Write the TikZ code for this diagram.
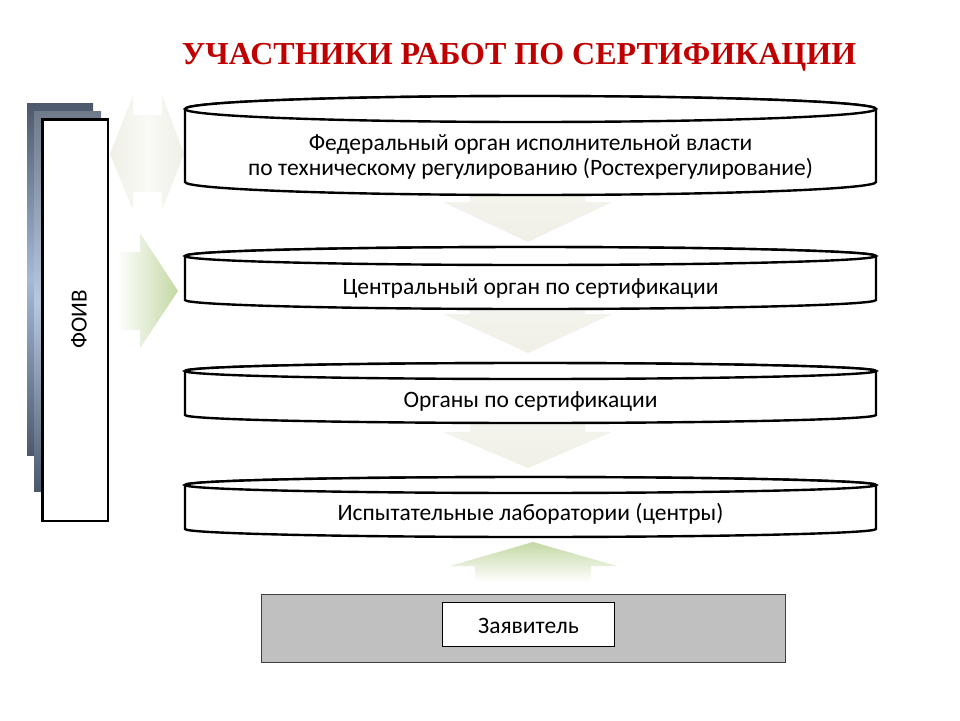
\documentclass[tikz,border=0pt]{standalone}
\usepackage{fontspec}
\usepackage{graphicx}
\setmainfont{Carlito}
\newfontfamily\titlefont{Liberation Serif}
\definecolor{titlered}{RGB}{192,0,0}
\definecolor{foivdark}{RGB}{76,89,108}
\definecolor{foivlight}{RGB}{164,186,216}
\definecolor{arrgreen}{RGB}{196,216,164}
\definecolor{arrbeige}{RGB}{240,240,232}
\definecolor{boxgray}{RGB}{192,192,192}
\newcommand\mycyl[5]{% x1,x2,ytop,ybottom,ry
  \filldraw[cylline] (#1,#3) -- (#1,#4) arc[start angle=180,end angle=360,x radius={(#2-#1)/2*1pt},y radius=#5 pt]
    -- (#2,#3) arc[start angle=0,end angle=180,x radius={(#2-#1)/2*1pt},y radius=#5 pt] -- cycle;
  \draw[cylline] ({(#1+#2)/2},#3) ellipse[x radius={(#2-#1)/2*1pt},y radius=#5 pt];
}
\tikzset{
  cylline/.style={draw=black,fill=white,line width=2.4pt},
  boxtext/.style={font=\fontsize{23.5}{28}\selectfont,anchor=base,inner sep=0pt},
  beigearrow/.style={top color=arrbeige!60!white,bottom color=arrbeige},
}
\begin{document}
\begin{tikzpicture}[x=1pt,y=-1pt]
\useasboundingbox (0,0) rectangle (960,720);
\fill[white] (0,0) rectangle (960,720);

% title
\node[font=\titlefont\bfseries\fontsize{32}{36}\selectfont,text=titlered,anchor=base,inner sep=0pt] (title) at (519,64)
  {УЧАСТНИКИ РАБОТ ПО СЕРТИФИКАЦИИ};

% FOIV stack
\shade[top color=foivdark,bottom color=foivdark,middle color=foivlight] (27,103) rectangle (93,455);
\shade[top color=foivdark!80!white,bottom color=foivdark,middle color=foivlight!80!white] (34,111) rectangle (101,491);
\node[draw=black,fill=white,line width=2.5pt,minimum width=65.5pt,minimum height=401.5pt,inner sep=0pt] (foiv) at (75,320) {};
\node[rotate=90,font=\fontsize{23}{27}\selectfont,inner sep=0pt] (foivtxt) at (79,319) {ФОИВ};

% double arrow (top left)
\shade[left color=arrbeige,right color=arrbeige,middle color=arrbeige!40!white]
  (110,154) -- (133,95) -- (133,115) -- (162,115) -- (162,95) -- (184,154) -- (162,210) -- (162,192) -- (133,192) -- (133,210) -- cycle;

% green right arrow
\shade[left color=white,right color=arrgreen]
  (117,252) -- (140,252) -- (140,233) -- (178,291) -- (140,348) -- (140,330) -- (117,330) -- cycle;

% down arrows between the levels
\shade[beigearrow] (470,150) -- (585,150) -- (585,202) -- (612,202) -- (528,242) -- (443,202) -- (470,202) -- cycle;
\shade[beigearrow] (470,280) -- (585,280) -- (585,314) -- (612,314) -- (528,353) -- (443,314) -- (470,314) -- cycle;
\shade[beigearrow] (470,395) -- (585,395) -- (585,432) -- (612,432) -- (528,468) -- (443,432) -- (470,432) -- cycle;

% levels
\mycyl{185}{876}{109}{182}{13}
\node[boxtext] (l1a) at (530.5,150) {Федеральный орган исполнительной власти};
\node[boxtext] (l1b) at (530.5,175) {по техническому регулированию (Ростехрегулирование)};
\mycyl{185}{876}{256}{300}{9}
\node[boxtext] (l2) at (530.5,294.5) {Центральный орган по сертификации};
\mycyl{185}{876}{371}{415}{8}
\node[boxtext] (l3) at (530.5,407) {Органы по сертификации};
\mycyl{185}{876}{485}{529}{8}
\node[boxtext] (l4) at (530.5,520) {Испытательные лаборатории (центры)};

% green up arrow
\shade[top color=arrgreen,bottom color=white]
  (533,542) -- (617,566) -- (591,566) -- (591,582) -- (475,582) -- (475,566) -- (450,566) -- cycle;

% applicant
\node[draw={rgb,255:red,64;green,64;blue,64},fill=boxgray,line width=1.2pt,minimum width=524pt,minimum height=68pt,inner sep=0pt] (appl) at (523.5,628.5) {};
\node[draw=black,fill=white,line width=1pt,minimum width=172pt,minimum height=44pt,inner sep=0pt] (applbox) at (528.5,624.5) {};
\node[boxtext] (appltxt) at (528.5,633) {Заявитель};
\end{tikzpicture}
\end{document}
